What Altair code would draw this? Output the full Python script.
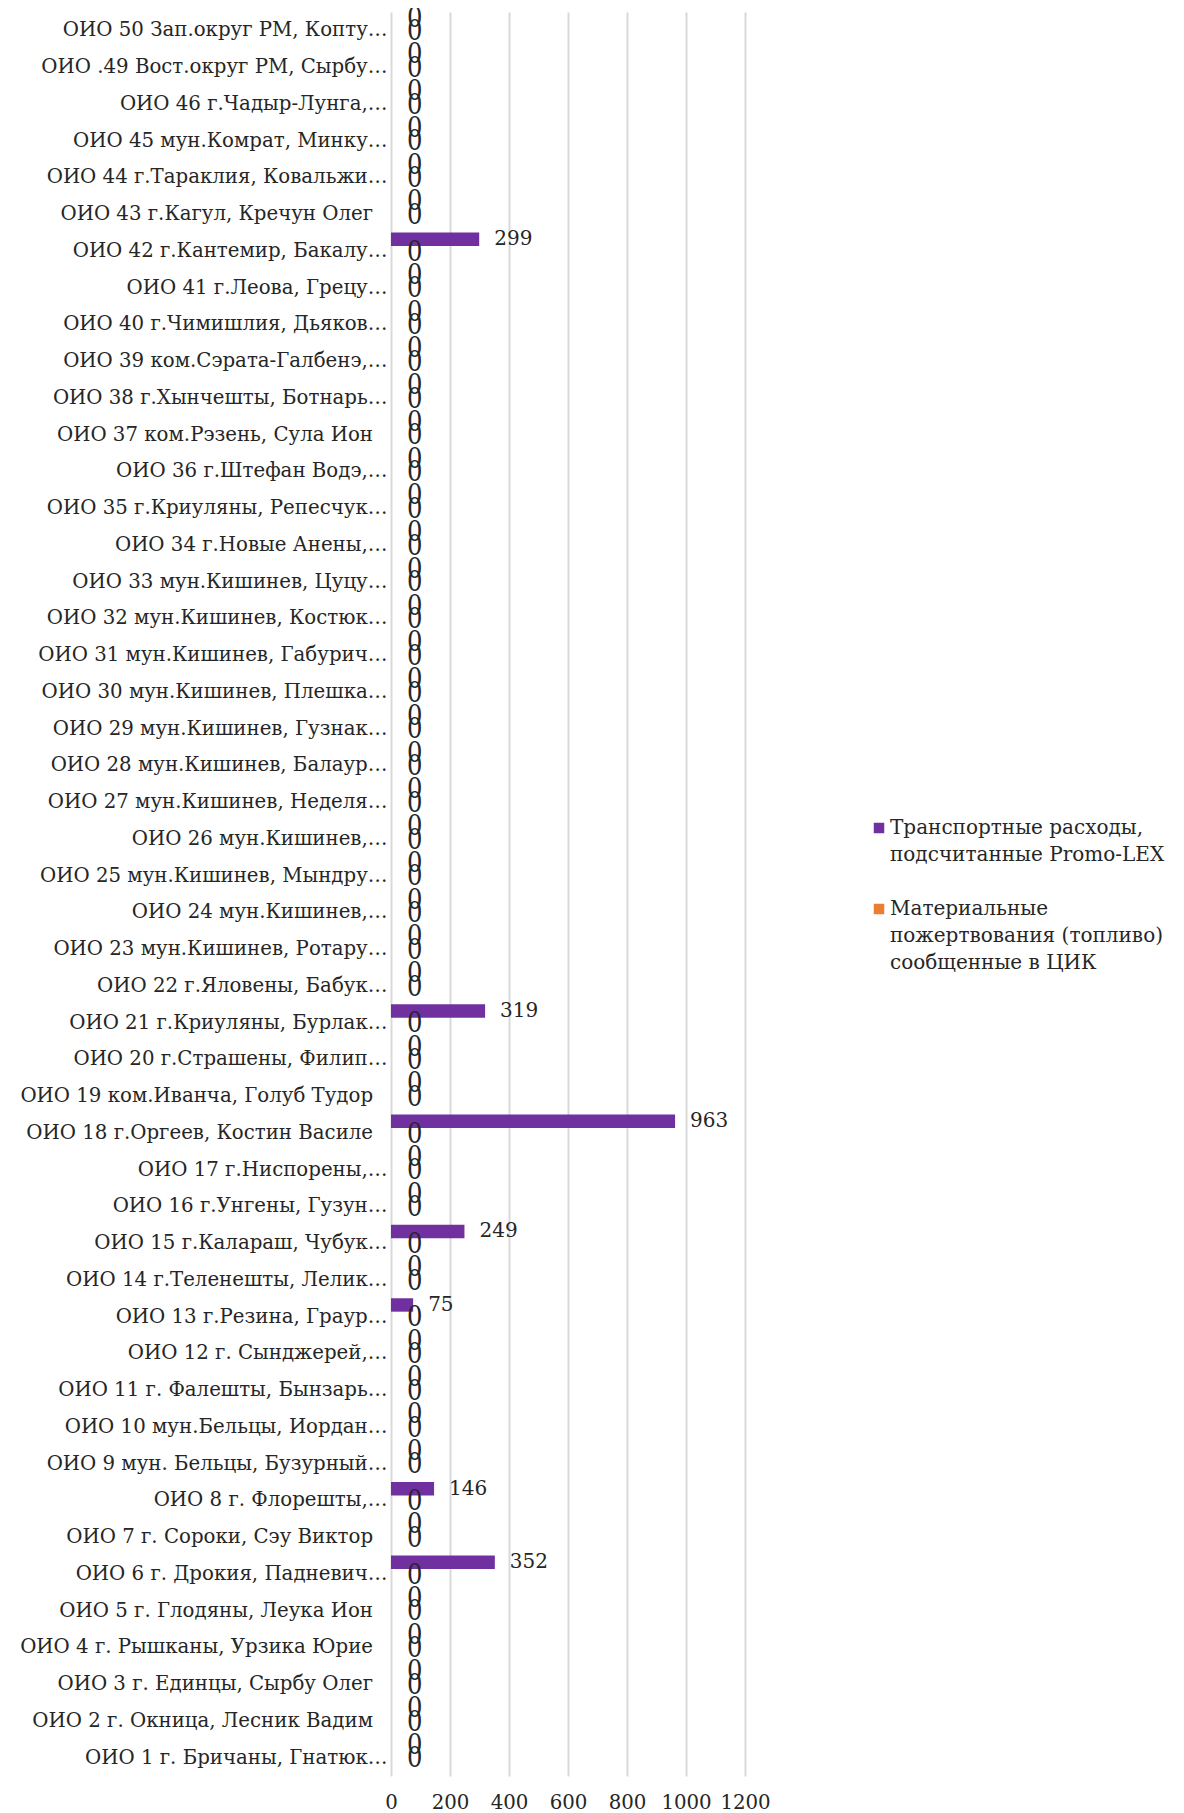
import altair as alt
import pandas as pd

FONT = "DejaVu Serif"
ZERO_FONT = "'DejaVu Serif Condensed', 'Liberation Sans Narrow', 'Liberation Serif'"
SP = "\u2800"

categories = [
    "ОИО 50 Зап.округ РМ, Копту…",
    "ОИО .49 Вост.округ РМ, Сырбу…",
    "ОИО 46 г.Чадыр-Лунга,…",
    "ОИО 45 мун.Комрат, Минку…",
    "ОИО 44 г.Тараклия, Ковальжи…",
    "ОИО 43 г.Кагул, Кречун Олег" + SP,
    "ОИО 42 г.Кантемир, Бакалу…",
    "ОИО 41 г.Леова, Грецу…",
    "ОИО 40 г.Чимишлия, Дьяков…",
    "ОИО 39 ком.Сэрата-Галбенэ,…",
    "ОИО 38 г.Хынчешты, Ботнарь…",
    "ОИО 37 ком.Рэзень, Сула Ион" + SP,
    "ОИО 36 г.Штефан Водэ,…",
    "ОИО 35 г.Криуляны, Репесчук…",
    "ОИО 34 г.Новые Анены,…",
    "ОИО 33 мун.Кишинев, Цуцу…",
    "ОИО 32 мун.Кишинев, Костюк…",
    "ОИО 31 мун.Кишинев, Габурич…",
    "ОИО 30 мун.Кишинев, Плешка…",
    "ОИО 29 мун.Кишинев, Гузнак…",
    "ОИО 28 мун.Кишинев, Балаур…",
    "ОИО 27 мун.Кишинев, Неделя…",
    "ОИО 26 мун.Кишинев,…",
    "ОИО 25 мун.Кишинев, Мындру…",
    "ОИО 24 мун.Кишинев,…",
    "ОИО 23 мун.Кишинев, Ротару…",
    "ОИО 22 г.Яловены, Бабук…",
    "ОИО 21 г.Криуляны, Бурлак…",
    "ОИО 20 г.Страшены, Филип…",
    "ОИО 19 ком.Иванча, Голуб Тудор" + SP,
    "ОИО 18 г.Оргеев, Костин Василе" + SP,
    "ОИО 17 г.Ниспорены,…",
    "ОИО 16 г.Унгены, Гузун…",
    "ОИО 15 г.Калараш, Чубук…",
    "ОИО 14 г.Теленешты, Лелик…",
    "ОИО 13 г.Резина, Граур…",
    "ОИО 12 г. Сынджерей,…",
    "ОИО 11 г. Фалешты, Бынзарь…",
    "ОИО 10 мун.Бельцы, Иордан…",
    "ОИО 9 мун. Бельцы, Бузурный…",
    "ОИО 8 г. Флорешты,…",
    "ОИО 7 г. Сороки, Сэу Виктор" + SP,
    "ОИО 6 г. Дрокия, Падневич…",
    "ОИО 5 г. Глодяны, Леука Ион" + SP,
    "ОИО 4 г. Рышканы, Урзика Юрие" + SP,
    "ОИО 3 г. Единцы, Сырбу Олег" + SP,
    "ОИО 2 г. Окница, Лесник Вадим" + SP,
    "ОИО 1 г. Бричаны, Гнатюк…",
]

transport = [
    0, 0, 0, 0, 0, 0, 299, 0, 0, 0,
    0, 0, 0, 0, 0, 0, 0, 0, 0, 0,
    0, 0, 0, 0, 0, 0, 0, 319, 0, 0,
    963, 0, 0, 249, 0, 75, 0, 0, 0, 0,
    146, 0, 352, 0, 0, 0, 0, 0,
]

fuel = [
    0, 0, 0, 0, 0, 0, 0, 0, 0, 0,
    0, 0, 0, 0, 0, 0, 0, 0, 0, 0,
    0, 0, 0, 0, 0, 0, 0, 0, 0, 0,
    0, 0, 0, 0, 0, 0, 0, 0, 0, 0,
    0, 0, 0, 0, 0, 0, 0, 0,
]

series_names = [
    "Транспортные расходы,\nподсчитанные Promo-LEX",
    "Материальные\nпожертвования (топливо)\nсообщенные в ЦИК",
]
series_colors = ["#7030A0", "#ED7D31"]
x_ticks = [0, 200, 400, 600, 800, 1000, 1200]

rows = []
for c, t, f in zip(categories, transport, fuel):
    rows.append({"cat": c, "series": series_names[0], "value": t})
    rows.append({"cat": c, "series": series_names[1], "value": f})
df = pd.DataFrame(rows)

y_scale = alt.Scale(paddingInner=0.27, paddingOuter=0.135, align=0)
y_enc = alt.Y(
    "cat:N",
    sort=categories,
    title=None,
    scale=y_scale,
    axis=alt.Axis(
        labelFont=FONT,
        labelFontSize=19.75,
        labelColor="#262626",
        labelLimit=420,
        labelPadding=4,
        labelOffset=5,
        ticks=False,
        domain=False,
        grid=False,
    ),
)
yoff = alt.YOffset("series:N", sort=series_names)
x_enc = alt.X(
    "value:Q",
    title=None,
    scale=alt.Scale(domain=[0, 1200], nice=False),
    axis=alt.Axis(
        values=x_ticks,
        format="d",
        labelOverlap=False,
        labelFlush=False,
        labelFont=FONT,
        labelFontSize=19.75,
        labelColor="#262626",
        labelPadding=16,
        ticks=False,
        domain=False,
        grid=True,
        gridColor="#d9d9d9",
        gridWidth=2,
    ),
)

bars = alt.Chart(df).mark_bar().encode(
    y=y_enc,
    yOffset=yoff,
    x=x_enc,
    color=alt.Color(
        "series:N",
        sort=series_names,
        scale=alt.Scale(domain=series_names, range=series_colors),
        legend=alt.Legend(
            title=None,
            orient="none",
            legendX=478,
            legendY=806,
            symbolType="square",
            symbolSize=110,
            symbolStrokeWidth=0,
            labelFont=FONT,
            labelFontSize=20,
            labelColor="#262626",
            labelLimit=420,
            labelExpr="split(datum.label, '\\n')",
            rowPadding=34,
            padding=0,
            labelOffset=1,
        ),
    ),
)

value_labels = alt.Chart(df).transform_filter(
    alt.datum.value > 0
).mark_text(
    align="left", baseline="middle", dx=15, font=FONT, fontSize=20, color="#262626"
).encode(
    y=alt.Y("cat:N", sort=categories, scale=y_scale),
    yOffset=yoff,
    x=alt.X("value:Q"),
    text=alt.Text("value:Q", format="d"),
)

zero_labels = alt.Chart(df).transform_filter(
    alt.datum.value == 0
).mark_text(
    align="left", baseline="middle", dx=16, font=ZERO_FONT, fontSize=27, color="#262626"
).encode(
    y=alt.Y("cat:N", sort=categories, scale=y_scale),
    yOffset=yoff,
    x=alt.X("value:Q"),
    text=alt.Text("value:Q", format="d"),
)

chart = (
    alt.layer(bars, value_labels, zero_labels)
    .properties(
        width=354,
        height=1764,
        autosize=alt.AutoSizeParams(type="none"),
        padding={"left": 383, "top": 4, "right": 428, "bottom": 38},
    )
    .configure(style={"guide-label": {"lineHeight": 27}})
    .configure_view(strokeWidth=0)
)

chart.save("out.html", embed_options={"renderer": "svg", "actions": False})
